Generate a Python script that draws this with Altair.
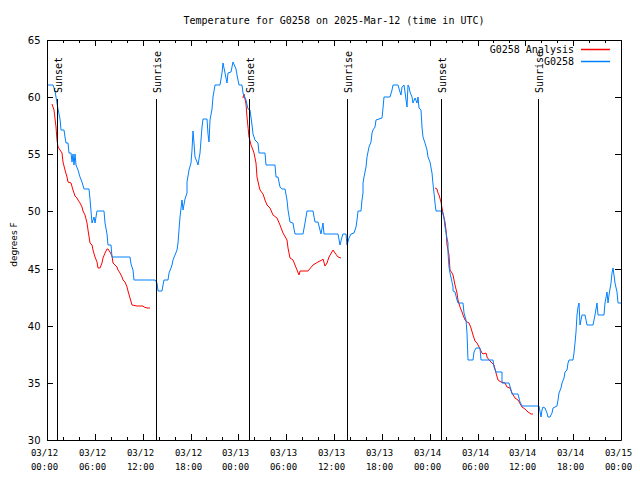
import json
import altair as alt
import pandas as pd

# ---------------- data ----------------
# hours since 2025-03-12 00:00 UTC
obs_hours = [0.17, 0.79, 0.95, 1.13, 1.30, 1.42, 1.55, 1.63, 1.71, 2.13, 2.25, 2.38, 2.68, 2.76, 2.97,
             3.09, 3.22, 3.39, 3.47, 3.64, 3.85, 4.14, 4.45, 4.68, 5.27, 5.39, 5.52, 5.69, 5.90, 6.02,
             6.23, 7.19, 7.28, 7.49, 7.61, 7.99, 8.11, 10.41, 10.55, 10.75, 10.91, 13.55, 13.76, 13.97,
             14.47, 14.59, 14.72, 15.22, 15.35, 15.51, 15.64, 15.85, 16.06, 16.27, 16.40, 16.55, 16.70,
             16.89, 17.10, 17.35, 17.52, 17.60, 17.81, 18.02, 18.19, 18.35, 18.44, 18.56, 18.77, 18.98,
             19.19, 19.40, 19.61, 20.03, 20.16, 20.28, 20.45, 20.66, 20.86, 21.07, 21.70, 21.91, 22.04,
             22.33, 22.54, 22.74, 23.04, 23.37, 23.71, 23.87, 24.04, 24.42, 24.63, 24.96, 25.26, 25.46,
             25.67, 25.88, 26.09, 26.30, 26.51, 26.63, 27.35, 27.47, 28.60, 28.73, 29.02, 29.23, 29.44,
             29.85, 30.06, 30.27, 30.48, 30.82, 30.98, 31.11, 32.15, 32.36, 32.57, 33.41, 33.62, 34.04,
             34.24, 34.37, 34.58, 34.75, 36.55, 36.75, 36.96, 37.09, 37.51, 37.67, 37.92, 38.09, 38.51,
             38.76, 38.93, 39.05, 39.35, 39.47, 39.60, 39.68, 39.81, 40.02, 40.18, 40.39, 40.60, 40.77,
             40.94, 41.10, 41.27, 41.98, 42.11, 42.31, 43.03, 43.24, 43.44, 44.07, 44.28, 44.41, 44.57,
             44.78, 44.91, 45.12, 45.24, 45.41, 45.53, 45.74, 45.95, 46.16, 46.37, 46.50, 46.66, 46.87,
             47.00, 47.21, 47.42, 47.63, 47.83, 48.04, 48.25, 48.38, 48.54, 48.67, 48.75, 49.57, 49.80,
             49.92, 50.13, 50.26, 50.34, 50.47, 50.59, 50.76, 50.89, 50.97, 51.18, 51.39, 51.51, 52.22,
             52.35, 52.52, 52.64, 52.77, 53.48, 53.60, 53.77, 54.31, 54.44, 55.99, 56.11, 56.28, 57.03,
             57.12, 57.99, 58.16, 58.29, 59.12, 59.33, 59.54, 61.76, 61.93, 62.09, 62.26, 62.47, 62.68,
             62.89, 63.10, 63.31, 63.51, 63.72, 63.93, 64.06, 64.27, 64.43, 64.64, 64.85, 64.98, 65.18,
             65.31, 65.52, 66.02, 66.15, 66.23, 66.36, 66.52, 66.65, 66.78, 66.90, 67.07, 67.49, 67.70,
             68.53, 68.70, 68.95, 69.16, 69.91, 70.04, 70.20, 70.33, 70.50, 70.71, 70.83, 70.96, 71.12,
             71.25, 71.46, 71.63, 72.00]
obs_temps = [61.06, 61.06, 60.5, 60.0, 59.5, 59.0, 58.5, 58.06, 57.1, 57.1, 56.5, 56.0, 56.0, 55.1, 55.1,
             54.3, 55.0, 54.06, 55.0, 54.06, 53.6, 53.04, 52.6, 52.0, 52.0, 51.06, 50.0, 49.0, 49.5, 49.0,
             50.0, 50.0, 49.0, 48.0, 47.06, 47.06, 46.04, 46.04, 45.4, 44.87, 44.0, 44.0, 43.71, 43.07,
             43.07, 43.56, 44.0, 44.0, 44.58, 45.02, 45.31, 45.75, 46.19, 46.62, 47.2, 48.4, 49.5,
             51.0, 50.1, 51.06, 51.58, 52.6, 53.6, 54.2, 55.4, 57.0, 56.0, 54.8, 54.35, 54.06,
             55.1, 57.4, 58.06, 58.06, 56.8, 56.1, 58.0, 59.0, 60.0, 61.06, 61.06, 62.1, 63.0,
             62.1, 61.2, 62.1, 62.2, 63.05, 62.5, 61.9, 61.06, 61.06, 60.33, 59.75, 59.0, 58.9,
             57.6, 56.8, 56.25, 56.1, 55.96, 55.08, 55.08, 54.06, 54.06, 53.04, 53.04, 52.17, 52.0,
             52.0, 51.0, 50.12, 49.1, 48.96, 48.5, 48.0, 48.0, 49.0, 50.0, 50.0, 49.1, 49.1,
             48.37, 48.0, 49.0, 48.0, 48.0, 47.06, 47.8, 48.0, 48.0, 47.06, 47.65, 48.02, 48.08,
             48.67, 49.25, 50.0, 50.0, 51.0, 51.58, 52.46, 53.04, 53.92, 54.79, 55.67, 56.1, 56.83,
             57.12, 57.42, 58.0, 58.15, 59.02, 60.04, 60.04, 60.62, 61.06, 61.06, 60.48, 60.19, 60.92,
             61.06, 60.48, 59.17, 61.06, 60.92, 60.48, 60.04, 59.46, 59.9, 59.46, 60.04, 59.02, 58.87,
             57.42, 56.54, 55.96, 55.37, 54.79, 54.3, 53.4, 52.4, 51.58, 50.7, 50.0, 50.0, 49.4,
             48.67, 47.65, 47.21, 46.33, 45.17, 44.58, 43.85, 43.42, 43.07, 42.98, 42.25, 41.96, 41.96,
             41.08, 40.5, 39.33, 37.0, 37.0, 37.73, 38.02, 38.02, 37.0, 37.0, 36.42, 35.98, 35.98,
             34.96, 34.96, 34.38, 34.0, 34.0, 33.35, 32.98, 32.98, 32.04, 32.62, 32.92, 32.77, 32.33,
             32.04, 32.04, 32.33, 32.77, 32.92, 32.98, 33.5, 34.08, 34.52, 34.96, 35.4, 35.98, 36.12,
             36.71, 37.0, 37.0, 37.58, 38.46, 39.48, 40.94, 41.67, 41.96, 40.06, 40.94, 40.94, 40.06,
             40.06, 40.94, 41.96, 40.94, 40.94, 41.96, 42.98, 41.96, 42.69, 43.71, 44.58, 45.02, 44.44,
             43.71, 42.98, 41.96, 41.96]

ana_hours = [0.67, 0.88, 1.13, 1.30, 1.42, 1.63, 1.84, 2.05, 2.26, 2.47, 2.68, 2.97, 3.30, 3.51, 3.72,
             3.93, 4.14, 4.35, 4.56, 4.77, 4.98, 5.18, 5.39, 5.60, 5.81, 6.02, 6.23, 6.44, 6.65, 6.86,
             7.07, 7.28, 7.48, 7.69, 7.90, 8.11, 8.32, 8.53, 8.74, 8.95, 9.16, 9.37, 9.57, 9.78, 9.99,
             10.20, 10.41, 10.62, 11.25, 12.00, 12.21, 12.50, 12.92,
             24.63, 24.75, 24.96, 25.13, 25.26, 25.38, 25.55, 25.80, 26.01, 26.22, 26.38, 26.55, 26.72,
             27.05, 27.35, 27.55, 27.97, 28.39, 28.81, 29.23, 29.65, 30.06, 30.27, 30.48, 30.90, 31.11,
             31.32, 31.61, 31.74, 32.78, 33.41, 34.04, 34.45, 34.66, 34.87, 35.08, 35.41, 35.83, 36.13,
             36.55, 36.84,
             48.67, 48.96, 49.09, 49.21, 49.38, 49.55, 49.72, 49.92, 50.05, 50.22, 50.38, 50.55, 50.76,
             50.97, 51.18, 51.39, 51.60, 51.81, 52.02, 52.22, 52.43, 52.64, 52.98, 53.14, 53.40, 53.69,
             53.98, 54.23, 54.53, 54.73, 55.03, 55.23, 55.49, 55.78, 56.07, 56.32, 56.62, 56.91, 57.45,
             57.74, 58.08, 58.29, 58.71, 59.12, 59.54, 59.96, 60.38, 60.67, 60.92]
ana_temps = [59.4, 58.87, 57.42, 56.25, 55.67, 55.37, 55.08, 54.35, 53.62, 53.04, 52.6, 52.46, 51.87, 51.35,
             51.15, 51.0, 50.7, 50.4, 50.0, 49.7, 48.96, 48.37, 47.2, 47.06, 46.62, 46.04, 45.6, 45.08,
             45.08, 45.46, 45.9, 46.33, 46.68, 46.68, 46.48, 46.1, 45.5, 45.31, 45.17, 44.87, 44.58,
             44.29, 44.0, 43.85, 43.42, 43.0, 42.4, 41.81, 41.72, 41.72, 41.6, 41.52, 41.52,
             59.9, 60.3, 59.4, 58.3, 57.4, 56.5, 55.8, 55.4, 55.1, 54.2, 53.0, 52.2, 51.9,
             51.5, 51.0, 50.6, 50.3, 49.7, 49.4, 48.8, 48.1, 47.5, 46.8, 45.9, 45.75, 45.3,
             44.9, 44.4, 44.8, 44.8, 45.3, 45.6, 45.75, 45.8, 45.2, 45.5, 46.0, 46.6, 46.4,
             46.0, 45.9,
             52.02, 51.93, 51.6, 51.44, 50.85, 50.27, 49.83, 49.1, 48.37, 47.06, 46.19, 44.87, 44.58,
             44.44, 43.56, 42.83, 42.25, 41.67, 41.23, 40.94, 40.5, 40.3, 40.21, 39.77, 39.19, 38.69,
             38.52, 38.11, 37.64, 37.52, 37.58, 37.29, 37.0, 36.71, 36.56, 35.83, 35.25, 35.1, 34.96,
             34.67, 34.52, 34.08, 33.65, 33.5, 32.92, 32.68, 32.42, 32.25, 32.25]

sun_hours = [1.29, 13.63, 25.38, 37.67, 49.42, 61.61]
sun_labels = ["Sunset", "Sunrise", "Sunset", "Sunrise", "Sunset", "Sunrise"]
sun_line_top = 59.8
sun_text_base = 60.4

x_major = [0, 6, 12, 18, 24, 30, 36, 42, 48, 54, 60, 66, 72]
x_minor = [2, 4, 8, 10, 14, 16, 20, 22, 26, 28, 32, 34, 38, 40, 44, 46, 50, 52, 56, 58, 62, 64, 68, 70]
x_tick_dates = ["03/12", "03/12", "03/12", "03/12", "03/13", "03/13", "03/13", "03/13",
                "03/14", "03/14", "03/14", "03/14", "03/15"]
x_tick_times = ["00:00", "06:00", "12:00", "18:00", "00:00", "06:00", "12:00", "18:00",
                "00:00", "06:00", "12:00", "18:00", "00:00"]
y_major = [30, 35, 40, 45, 50, 55, 60, 65]

legend_names = ["G0258 Analysis", "G0258"]
legend_colors = ["#ff0000", "#0080ff"]

title_text = "Temperature for G0258 on 2025-Mar-12 (time in UTC)"

# ---------------- tables ----------------
obs_df = pd.DataFrame({"hour": obs_hours, "temp": obs_temps})
seg = []
s = 0
for i, h in enumerate(ana_hours):
    if i > 0 and h - ana_hours[i - 1] > 3:
        s += 1
    seg.append(s)
ana_df = pd.DataFrame({"hour": ana_hours, "temp": ana_temps, "seg": seg})
sun_df = pd.DataFrame({"hour": sun_hours, "label": sun_labels})
xmaj_df = pd.DataFrame({"hour": x_major})
xmin_df = pd.DataFrame({"hour": x_minor})
ymaj_df = pd.DataFrame({"temp": y_major})
legend_df = pd.DataFrame({"label": legend_names, "series_color": legend_colors})

W, H = 574, 400
MONO = "DejaVu Sans Mono"
SANS = "DejaVu Sans"

label_expr = ("[" + json.dumps(x_tick_dates) + "[round(datum.value/6)], "
              + json.dumps(x_tick_times) + "[round(datum.value/6)]]")

xscale = alt.Scale(domain=[0, 72], nice=False, zero=False, round=True)
yscale = alt.Scale(domain=[30, 65], nice=False, zero=False, round=True)
xaxis = alt.Axis(values=x_major, labelExpr=label_expr, ticks=False, domain=False, grid=False,
                 labelFont=MONO, labelFontSize=9, labelPadding=8, labelLineHeight=14.6,
                 labelOffset=-3, labelAngle=0, labelOverlap=False, labelFlush=False,
                 labelBound=False, labelColor="black", title=None)
yaxis = alt.Axis(values=y_major, ticks=False, domain=False, grid=False,
                 labelFont=SANS, labelFontSize=10, labelPadding=7, labelColor="black",
                 title="degrees F", titleFont=SANS, titleFontSize=9, titleFontWeight="normal",
                 titleColor="black", titleAngle=270, titleX=-34, titleY=204,
                 titleAlign="center", titleBaseline="middle")


def X(field="hour"):
    return alt.X(f"{field}:Q", scale=xscale, axis=xaxis)


def Y(field="temp"):
    return alt.Y(f"{field}:Q", scale=yscale, axis=yaxis)


ana_line = alt.Chart(ana_df).mark_line(strokeWidth=1, stroke=legend_colors[0]).encode(
    x=X(), y=Y(), detail="seg:N", order="hour:Q")
obs_line = alt.Chart(obs_df).mark_line(strokeWidth=1, stroke=legend_colors[1]).encode(
    x=X(), y=Y(), order="hour:Q")

sun_rules = alt.Chart(sun_df).mark_rule(stroke="black", strokeWidth=1, xOffset=0.5).encode(
    x=X(), y=alt.datum(30), y2=alt.datum(sun_line_top))
sun_text = alt.Chart(sun_df).mark_text(angle=270, align="left", baseline="middle", dy=2,
                                       font=MONO, fontSize=10, fill="black").encode(
    x=X(), y=alt.datum(sun_text_base), text="label:N")

tick_mark = dict(stroke="black", strokeWidth=1)
bot_major = alt.Chart(xmaj_df).mark_rule(xOffset=0.5, **tick_mark).encode(
    x=X(), y=alt.value(H), y2=alt.value(H - 6))
top_major = alt.Chart(xmaj_df).mark_rule(xOffset=0.5, **tick_mark).encode(
    x=X(), y=alt.value(0), y2=alt.value(6))
bot_minor = alt.Chart(xmin_df).mark_rule(xOffset=0.5, **tick_mark).encode(
    x=X(), y=alt.value(H), y2=alt.value(H - 3))
top_minor = alt.Chart(xmin_df).mark_rule(xOffset=0.5, **tick_mark).encode(
    x=X(), y=alt.value(0), y2=alt.value(3))
left_major = alt.Chart(ymaj_df).mark_rule(yOffset=0.5, **tick_mark).encode(
    y=Y(), x=alt.value(0), x2=alt.value(6))
right_major = alt.Chart(ymaj_df).mark_rule(yOffset=0.5, **tick_mark).encode(
    y=Y(), x=alt.value(W), x2=alt.value(W - 6))

# legend (gnuplot style: label on the left, line sample on the right)
legend_layers = []
for i, name in enumerate(legend_names):
    ypix = 10 + 12 * i
    base = alt.Chart(legend_df).transform_filter(alt.datum.label == name)
    legend_layers.append(base.mark_rule(strokeWidth=1.5).encode(
        x=alt.value(534), x2=alt.value(563), y=alt.value(ypix - 0.5),
        stroke=alt.Stroke("series_color:N", scale=None, legend=None)))
    legend_layers.append(base.mark_text(align="right", baseline="middle", font=MONO,
                                        fontSize=10, fill="black").encode(
        x=alt.value(527), y=alt.value(ypix), text="label:N"))

chart = alt.layer(
    ana_line, obs_line, sun_rules, sun_text,
    bot_major, top_major, bot_minor, top_minor, left_major, right_major,
    *legend_layers
).properties(
    width=W, height=H,
    title=alt.TitleParams(title_text, font=MONO, fontSize=10, fontWeight="normal",
                          color="black", anchor="middle", offset=9),
    autosize=alt.AutoSizeParams(type="none"),
    padding={"left": 39, "top": 32, "right": 11, "bottom": 32},
    background="white",
).configure_view(stroke="black", strokeWidth=1)

chart.save("out.html", embed_options={"renderer": "svg", "actions": False})
